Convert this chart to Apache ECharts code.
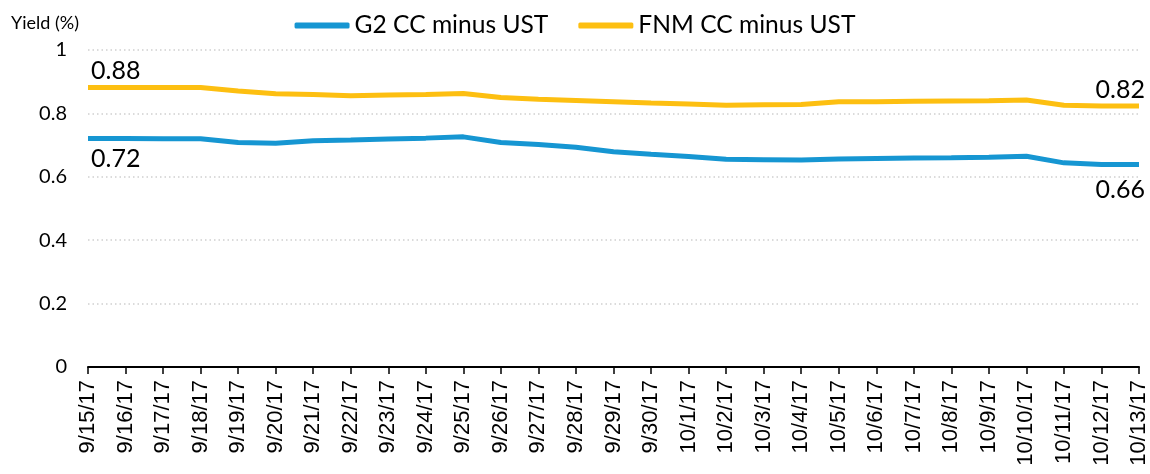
<!DOCTYPE html>
<html>
<head>
<meta charset="utf-8">
<script src="https://cdn.jsdelivr.net/npm/echarts@6/dist/echarts.min.js"></script>
<style>
html,body{margin:0;padding:0;background:#fff;}
#chart{width:1150px;height:474px;}
</style>
</head>
<body>
<div id="chart"></div>
<script>
var dates = ['9/15/17','9/16/17','9/17/17','9/18/17','9/19/17','9/20/17','9/21/17','9/22/17','9/23/17','9/24/17','9/25/17','9/26/17','9/27/17','9/28/17','9/29/17','9/30/17','10/1/17','10/2/17','10/3/17','10/4/17','10/5/17','10/6/17','10/7/17','10/8/17','10/9/17','10/10/17','10/11/17','10/12/17','10/13/17'];
var g2 = [0.721,0.721,0.720,0.720,0.708,0.706,0.714,0.716,0.719,0.722,0.726,0.708,0.702,0.693,0.679,0.671,0.664,0.655,0.654,0.653,0.656,0.658,0.659,0.660,0.662,0.665,0.644,0.639,0.639];
var fnm = [0.882,0.882,0.882,0.882,0.871,0.862,0.860,0.856,0.858,0.860,0.863,0.850,0.845,0.841,0.837,0.833,0.830,0.826,0.827,0.828,0.837,0.837,0.838,0.839,0.840,0.842,0.826,0.823,0.823];
var seriesNames = ['G2 CC minus UST','FNM CC minus UST'];
var g2EndLabels = ['0.72','0.66'];
var fnmEndLabels = ['0.88','0.82'];
var yTicks = {min:0, max:1, interval:0.2};

function withEndLabels(values, labels, pos, distFirst, distLast){
  return values.map(function(v,i){
    if(i===0){
      return {value:v, label:{show:true, position:pos, distance:distFirst, align:'left', offset:[3,0], formatter:labels[0]}};
    }
    if(i===values.length-1){
      return {value:v, label:{show:true, position:pos, distance:distLast, align:'right', offset:[6,0], formatter:labels[1]}};
    }
    return v;
  });
}

var chart = echarts.init(document.getElementById('chart'), null, {renderer:'canvas'});
var labelStyle = {show:false, fontFamily:'Lato', fontSize:25, color:'#000'};
chart.setOption({
  animation:false,
  title:{text:'Yield (%)', left:6, top:9, textStyle:{fontFamily:'Lato', fontSize:18, fontWeight:'normal', color:'#000'}},
  legend:{
    data:seriesNames, top:8, left:'center',
    icon:'roundRect', itemWidth:55, itemHeight:6, itemGap:30,
    textStyle:{fontFamily:'Lato', fontSize:24.6, color:'#000'}
  },
  grid:{left:88, right:10, top:50, bottom:107, containLabel:false},
  xAxis:{
    type:'category', data:dates, boundaryGap:false,
    axisLine:{lineStyle:{color:'#000', width:2}},
    axisTick:{show:true, length:7, lineStyle:{color:'#000', width:1.5}},
    axisLabel:{rotate:90, interval:0, margin:13, fontFamily:'Liberation Sans', fontSize:22, color:'#000'}
  },
  yAxis:{
    type:'value', min:yTicks.min, max:yTicks.max, interval:yTicks.interval,
    axisLine:{show:false}, axisTick:{show:false},
    axisLabel:{margin:21, fontFamily:'Lato', fontSize:20, color:'#000'},
    splitLine:{lineStyle:{color:'#cfcfcf', type:[1.5,3], width:1.5}}
  },
  series:[
    {name:seriesNames[0], type:'line', data:withEndLabels(g2, g2EndLabels, 'bottom', 8, 13), showSymbol:true, symbol:'circle', symbolSize:0.1,
     lineStyle:{color:'#1696d2', width:5}, itemStyle:{color:'#1696d2'}, label:labelStyle, z:3},
    {name:seriesNames[1], type:'line', data:withEndLabels(fnm, fnmEndLabels, 'top', 4, 4), showSymbol:true, symbol:'circle', symbolSize:0.1,
     lineStyle:{color:'#fdbf11', width:5}, itemStyle:{color:'#fdbf11'}, label:labelStyle, z:2}
  ]
});
</script>
</body>
</html>
